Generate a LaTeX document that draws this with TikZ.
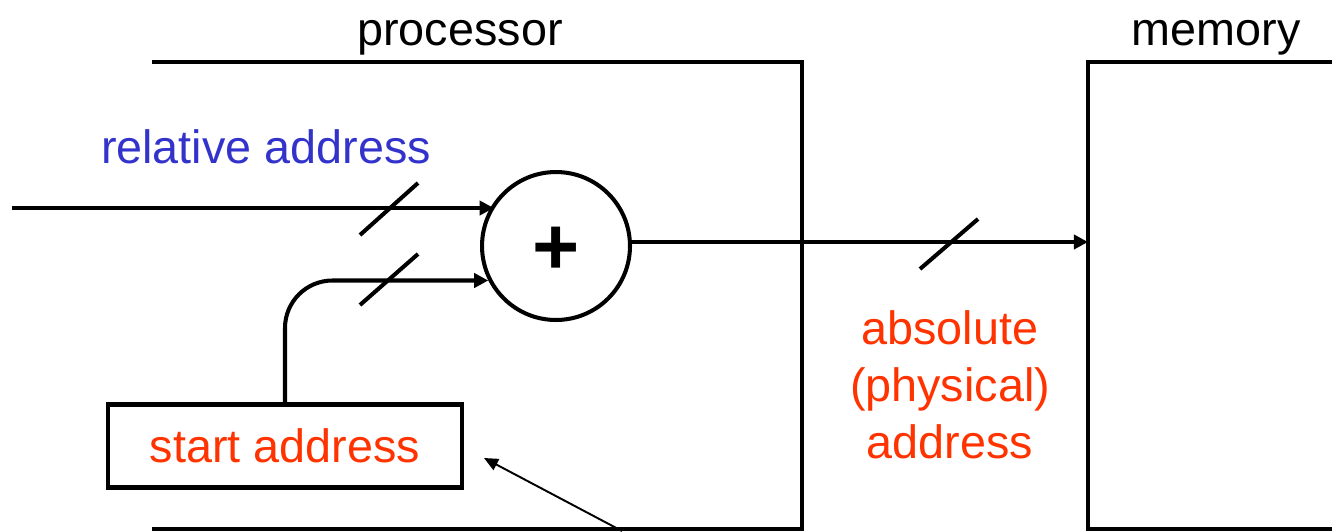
\documentclass[tikz,border=0pt]{standalone}
\usepackage{fontspec}
\setmainfont{Liberation Sans}
\usepackage{tikz}
\usetikzlibrary{arrows.meta, positioning, calc}
\definecolor{relblue}{RGB}{51,51,204}
\definecolor{absred}{RGB}{255,51,0}

\begin{document}
\begin{tikzpicture}[
    x=0.02cm, y=-0.02cm,
    every node/.style={
        font=\fontsize{26.6}{32.4}\selectfont,
        inner sep=0pt
    },
    wire/.style={line width=2.3pt},
    arrow/.style={-{Triangle[length=8pt, width=8pt]}, line width=2.3pt},
    pointer/.style={-{Triangle[length=8pt, width=7pt]}, line width=1.1pt},
    busmark/.style={line width=2.3pt}
]
\useasboundingbox (0,0) rectangle (1332,531);

% blocks
\draw[wire] (152,62) -- (802,62) -- (802,531);
\draw[wire] (152,529) -- (802,529);
\draw[wire] (1332,62) -- (1088,62) -- (1088,531);
\draw[wire] (1088,529) -- (1332,529);

\node[anchor=base] (proc) at (460,45) {processor};
\node[anchor=base] (mem) at (1216,45) {memory};

\node[draw, circle, line width=2.3pt, minimum size=2.96cm] (adder) at (556,246)
    {\raisebox{-3pt}[\height][\depth]{\fontsize{46}{46}\selectfont\bfseries +}};

\node[draw, line width=2.3pt, minimum width=7.1cm, minimum height=1.66cm,
    text=absred] (start) at (285,446) {start address};

\node[anchor=base, text=relblue] (rel) at (266,163) {relative address};

\node[align=center, text=absred] (abs) at (950,385) {absolute\\(physical)\\address};

\coordinate (relin) at (12,208);
\coordinate (memin) at (1088,242);
\coordinate (ptr) at (622,531);
\coordinate (ptrtip) at (484,458);

% connectors
\draw[arrow] (relin) -- (relin -| adder.145);
\draw[arrow, rounded corners=0.95cm] (start.north) |- (adder.207);
\draw[arrow] (adder.east |- memin) -- (memin);
\draw[pointer] (ptr) -- (ptrtip);

% bus width marks
\draw[busmark] (389,208) ++(-29,27) -- ++(58,-52);
\draw[busmark] (389,283) ++(-29,22) -- ++(58,-51);
\draw[busmark] (949,242) ++(-29,27) -- ++(58,-50);

\end{tikzpicture}
\end{document}
